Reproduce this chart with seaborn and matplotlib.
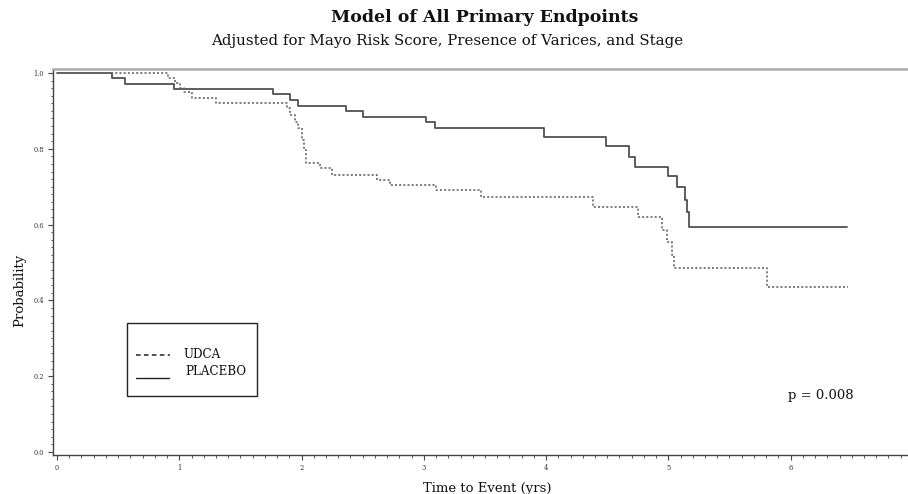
import numpy as np
import pandas as pd
import matplotlib
matplotlib.use("Agg")
import matplotlib.pyplot as plt
import seaborn as sns
from matplotlib.lines import Line2D
from matplotlib.patches import Rectangle
from matplotlib.ticker import MultipleLocator

# step times (years) and survival probability after each step
placebo_t = [0, 0.45, 0.556, 0.96, 1.77, 1.905, 1.97, 2.36, 2.505, 3.02, 3.09,
             3.98, 4.49, 4.68, 4.73, 5.0, 5.07, 5.135, 5.15, 5.17, 6.465]
placebo_p = [1.0, 0.986, 0.971, 0.957, 0.944, 0.929, 0.914, 0.900, 0.885, 0.870, 0.854,
             0.832, 0.807, 0.779, 0.753, 0.728, 0.698, 0.665, 0.632, 0.594, 0.594]

udca_t = [0, 0.91, 0.965, 1.006, 1.04, 1.10, 1.30, 1.878, 1.905, 1.946, 1.973, 2.0,
          2.02, 2.036, 2.15, 2.245, 2.62, 2.72, 3.10, 3.47, 4.385, 4.75, 4.944,
          4.99, 5.03, 5.05, 5.81, 6.47]
udca_p = [1.0, 0.986, 0.973, 0.960, 0.949, 0.933, 0.920, 0.907, 0.889, 0.872, 0.854, 0.823,
          0.797, 0.762, 0.749, 0.731, 0.718, 0.704, 0.690, 0.674, 0.647, 0.619, 0.586,
          0.555, 0.520, 0.486, 0.435, 0.435]

y_ticks = [0.0, 0.2, 0.4, 0.6, 0.8, 1.0]
x_ticks = [0, 1, 2, 3, 4, 5, 6]

sns.set_style("white")
plt.rcParams["font.family"] = ["DejaVu Serif"]

W, H = 908, 494
fig = plt.figure(figsize=(W / 100, H / 100), dpi=100)

# axes placed in pixel terms of the original
ax_left, ax_right, ax_top, ax_bot = 53, 908, 69, 455
ax = fig.add_axes([ax_left / W, 1 - ax_bot / H, (ax_right - ax_left) / W, (ax_bot - ax_top) / H])

df_p = pd.DataFrame({"t": placebo_t, "p": placebo_p})
df_u = pd.DataFrame({"t": udca_t, "p": udca_p})

sns.lineplot(data=df_p, x="t", y="p", ax=ax, estimator=None, sort=False,
             drawstyle="steps-post", color="#505050", linewidth=1.3)
sns.lineplot(data=df_u, x="t", y="p", ax=ax, estimator=None, sort=False,
             drawstyle="steps-post", color="#666666", linewidth=1.2,
             dashes=False, linestyle=(0, (1.2, 1.3)))

ax.set_xlim(-0.033, 6.96)
ax.set_ylim(-0.008, 1.0106)
ax.set_xticks(x_ticks)
ax.set_xticklabels([str(v) for v in x_ticks])
ax.set_yticks(y_ticks)
ax.set_yticklabels([f"{v:.1f}" for v in y_ticks])
ax.xaxis.set_minor_locator(MultipleLocator(0.1))
ax.yaxis.set_minor_locator(MultipleLocator(0.02))
ax.tick_params(which="major", direction="out", length=3.5, width=0.8, color="#444444",
               labelsize=4.8, labelcolor="#333333", pad=3,
               bottom=True, left=True)
ax.tick_params(which="minor", direction="out", length=1.8, width=0.7, color="#555555",
               bottom=True, left=True)
ax.set_xlabel("")
ax.set_ylabel("")

for side in ["left", "bottom"]:
    ax.spines[side].set_color("#444444")
    ax.spines[side].set_linewidth(1.0)
ax.spines["top"].set_color("#aaaaaa")
ax.spines["top"].set_linewidth(1.8)
ax.spines["right"].set_visible(False)


def fx(px):
    return px / W


def fy(py):
    return 1 - py / H


# titles and axis labels
fig.text(fx(485), fy(18), "Model of All Primary Endpoints", ha="center", va="center",
         fontsize=12.5, fontweight="bold", color="#111111")
fig.text(fx(447), fy(41), "Adjusted for Mayo Risk Score, Presence of Varices, and Stage",
         ha="center", va="center", fontsize=10.8, color="#111111")
fig.text(fx(487), fy(488), "Time to Event (yrs)", ha="center", va="center",
         fontsize=9.5, color="#111111")
fig.text(fx(20), fy(290), "Probability", ha="center", va="center", rotation=90,
         fontsize=9.5, color="#111111")

# legend box
fig.patches.append(Rectangle((fx(127), fy(396)), (257 - 127) / W, (396 - 323) / H,
                             transform=fig.transFigure, fill=False,
                             edgecolor="#222222", linewidth=1.0))
fig.lines.append(Line2D([fx(136), fx(170)], [fy(355), fy(355)], transform=fig.transFigure,
                        color="#222222", linewidth=1.1, linestyle=(0, (3, 2.2))))
fig.lines.append(Line2D([fx(136), fx(169)], [fy(378), fy(378)], transform=fig.transFigure,
                        color="#222222", linewidth=1.0))
fig.text(fx(183), fy(355), "UDCA", ha="left", va="center", fontsize=8.6, color="#111111")
fig.text(fx(185), fy(371), "PLACEBO", ha="left", va="center", fontsize=8.6, color="#111111")

fig.text(fx(788), fy(395), "p = 0.008", ha="left", va="center", fontsize=9.5, color="#111111")

fig.savefig("out.png", dpi=100)
